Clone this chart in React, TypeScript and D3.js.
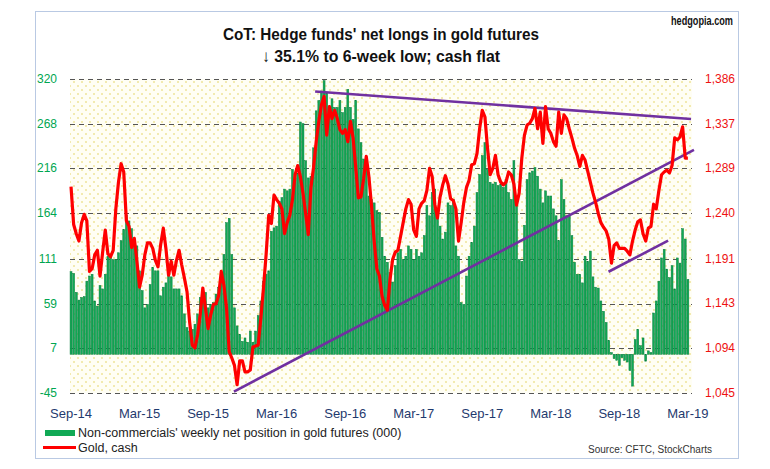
import React, { useEffect, useRef } from "react";
import * as d3 from "d3";

// weekly, Sep-2014 .. Mar-2019
const netLongs = [
  96, 94, 72, 63, 66, 67, 85, 91, 93, 62,
  56, 80, 76, 93, 114, 113, 110, 110, 118, 132,
  145, 162, 155, 146, 128, 126, 97, 74, 54, 58,
  81, 101, 97, 97, 68, 78, 83, 101, 90, 76,
  76, 76, 68, 47, 31, 27, 29, 35, 47, 66,
  62, 72, 54, 58, 60, 70, 78, 93, 116, 153,
  158, 116, 54, 33, 23, 15, 19, 14, 27, 14,
  27, 45, 62, 85, 93, 97, 143, 147, 149, 178,
  182, 192, 190, 192, 215, 205, 210, 270, 268, 225,
  205, 207, 240, 283, 295, 306, 318, 304, 285, 297,
  287, 287, 295, 281, 287, 308, 287, 273, 295, 262,
  246, 227, 215, 184, 180, 176, 167, 165, 136, 114,
  107, 95, 84, 103, 118, 122, 110, 114, 126, 122,
  110, 122, 114, 118, 138, 173, 161, 188, 192, 165,
  149, 134, 142, 176, 173, 180, 126, 114, 60, 58,
  91, 114, 130, 149, 188, 209, 231, 246, 215, 200,
  198, 200, 196, 198, 194, 203, 188, 180, 225, 173,
  110, 108, 150, 203, 211, 213, 217, 207, 192, 176,
  190, 184, 184, 169, 161, 132, 203, 180, 161, 161,
  138, 107, 93, 93, 83, 114, 108, 120, 90, 78,
  77, 62, 50, 37, 16, 2, -5, -7, -13, -4,
  -7, -9, -19, -37, 17, 29, 10, 19, -8, 4,
  2, 48, 62, 85, 112, 122, 99, 89, 103, 76,
  112, 106, 146, 134, 87,
];

const goldCash = [
  1269, 1228, 1218, 1210, 1230, 1239, 1232, 1177, 1180, 1195,
  1200, 1172, 1198, 1222, 1196, 1193, 1200, 1245, 1274, 1294,
  1285, 1232, 1226, 1203, 1213, 1188, 1160, 1173, 1195, 1208,
  1208, 1202, 1189, 1182, 1206, 1224, 1202, 1173, 1188, 1173,
  1189, 1200, 1184, 1170, 1155, 1122, 1097, 1094, 1108, 1130,
  1159, 1137, 1115, 1130, 1141, 1142, 1151, 1177, 1162, 1137,
  1090, 1083, 1075, 1054, 1080, 1080, 1068, 1068, 1070, 1095,
  1096, 1097, 1126, 1159, 1195, 1238, 1229, 1260, 1255, 1251,
  1245, 1218, 1230, 1238, 1255, 1282, 1292, 1280, 1262, 1240,
  1217, 1268, 1290, 1318, 1340, 1358, 1367, 1325, 1356, 1343,
  1352, 1343, 1331, 1327, 1331, 1318, 1340, 1322, 1290, 1257,
  1258, 1278, 1302, 1280, 1248, 1210, 1180, 1172, 1150, 1140,
  1135, 1168, 1190, 1198, 1200, 1215, 1230, 1245, 1255, 1250,
  1222, 1215, 1245, 1251, 1254, 1265, 1289, 1280, 1250, 1235,
  1258, 1271, 1281, 1272, 1256, 1254, 1245, 1210, 1230, 1252,
  1268, 1276, 1293, 1294, 1305, 1332, 1352, 1345, 1311, 1282,
  1289, 1303, 1282, 1274, 1271, 1274, 1285, 1282, 1272, 1249,
  1262, 1300, 1325, 1336, 1338, 1343, 1354, 1332, 1350, 1316,
  1356, 1332, 1327, 1318, 1313, 1350, 1327, 1347, 1343, 1332,
  1322, 1311, 1303, 1291, 1303, 1298, 1286, 1274, 1262, 1252,
  1240, 1230, 1225, 1221, 1212, 1186, 1205, 1208, 1202, 1202,
  1202, 1199, 1195, 1210, 1222, 1231, 1233, 1218, 1210, 1224,
  1226, 1250, 1245, 1265, 1282, 1285, 1287, 1284, 1292, 1322,
  1320, 1323, 1334, 1300, 1300,
];

const xTickLabels = ["Sep-14", "Mar-15", "Sep-15", "Mar-16", "Sep-16", "Mar-17", "Sep-17", "Mar-18", "Sep-18", "Mar-19"];
const leftTicks = [320, 268, 216, 164, 111, 59, 7, -45];
const rightTicks = [1386, 1337, 1289, 1240, 1191, 1143, 1094, 1045];

// trend lines drawn on the chart: [week index, gold price]
const trendLines: [number, number][][] = [
  [[92.6, 1372.4], [235.2, 1342.6]],
  [[61.8, 1046.6], [236.3, 1309]],
  [[203.9, 1176.7], [226.5, 1210.4]],
];

const FONT = "'Liberation Sans', Arial, sans-serif";

const drawChart = (svgEl: SVGSVGElement) => {
  const svg = d3.select(svgEl);
  svg.selectAll("*").remove();

  const left = 70;
  const right = 692;
  const top = 79;
  const bottom = 393;

  const x = d3
    .scaleBand<number>()
    .domain(d3.range(netLongs.length))
    .range([69.7, 689.2])
    .paddingInner(0.28)
    .paddingOuter(0.14);
  const xc = (i: number) => (x(i) || 0) + x.bandwidth() / 2;
  const xLin = d3
    .scaleLinear()
    .domain([0, netLongs.length - 1])
    .range([xc(0), xc(netLongs.length - 1)]);

  const yL = d3.scaleLinear().domain([-45, 320]).range([bottom, top]);
  const yR = d3.scaleLinear().domain([1045, 1386]).range([bottom, top]);

  const defs = svg.append("defs");
  const pat = defs
    .append("pattern")
    .attr("id", "dots")
    .attr("width", 8)
    .attr("height", 8)
    .attr("patternUnits", "userSpaceOnUse");
  pat.append("rect").attr("width", 8).attr("height", 8).attr("fill", "#fffef4");
  pat.append("circle").attr("cx", 2).attr("cy", 2).attr("r", 1).attr("fill", "#eee49a");
  pat.append("circle").attr("cx", 6).attr("cy", 6).attr("r", 1).attr("fill", "#eee49a");

  svg
    .append("rect")
    .attr("x", 35.5)
    .attr("y", 11.5)
    .attr("width", 703)
    .attr("height", 447)
    .attr("fill", "#ffffff")
    .attr("stroke", "#b9c9e3");

  svg
    .append("rect")
    .attr("x", left)
    .attr("y", top)
    .attr("width", right - left)
    .attr("height", bottom - top)
    .attr("fill", "url(#dots)");

  // grid
  svg
    .append("g")
    .selectAll("line")
    .data(leftTicks)
    .enter()
    .append("line")
    .attr("x1", left)
    .attr("x2", right)
    .attr("y1", (d) => Math.round(yL(d)) + 0.5)
    .attr("y2", (d) => Math.round(yL(d)) + 0.5)
    .attr("stroke", "#555")
    .attr("stroke-width", 1)
    .attr("stroke-dasharray", "5,4");

  // bars
  const y0 = yL(0);
  svg
    .append("g")
    .selectAll("rect")
    .data(netLongs)
    .enter()
    .append("rect")
    .attr("x", (_, i) => x(i) || 0)
    .attr("width", x.bandwidth())
    .attr("y", (d) => Math.min(yL(d), y0))
    .attr("height", (d) => Math.abs(yL(d) - y0))
    .attr("fill", "#10a955")
    .attr("stroke", "#0a7d3e")
    .attr("stroke-width", 0.5);

  // trend lines
  svg
    .append("g")
    .selectAll("line")
    .data(trendLines)
    .enter()
    .append("line")
    .attr("x1", (d) => xLin(d[0][0]))
    .attr("y1", (d) => yR(d[0][1]))
    .attr("x2", (d) => xLin(d[1][0]))
    .attr("y2", (d) => yR(d[1][1]))
    .attr("stroke", "#7030a0")
    .attr("stroke-width", 2.6);

  // gold line
  const line = d3
    .line<number>()
    .x((_, i) => xc(i))
    .y((d) => yR(d));
  svg
    .append("path")
    .datum(goldCash)
    .attr("d", line)
    .attr("fill", "none")
    .attr("stroke", "#ff0000")
    .attr("stroke-width", 3.2)
    .attr("stroke-linejoin", "round");

  // axis labels
  svg
    .append("g")
    .selectAll("text")
    .data(leftTicks)
    .enter()
    .append("text")
    .attr("x", 57)
    .attr("y", (d) => yL(d) + 4)
    .attr("text-anchor", "end")
    .attr("font-size", 12)
    .attr("fill", "#00a651")
    .text((d) => d);

  svg
    .append("g")
    .selectAll("text")
    .data(rightTicks)
    .enter()
    .append("text")
    .attr("x", 705)
    .attr("y", (d) => yR(d) + 4)
    .attr("font-size", 12)
    .attr("fill", "#ee1111")
    .text((d) => d3.format(",")(d));

  svg
    .append("g")
    .selectAll("text")
    .data(xTickLabels)
    .enter()
    .append("text")
    .attr("x", (_, i) => xc(i * 26))
    .attr("y", 418)
    .attr("text-anchor", "middle")
    .attr("font-size", 13)
    .attr("fill", "#1f3a6e")
    .text((d) => d);

  // title and notes
  const t = svg.append("g").attr("fill", "#111").attr("font-weight", "bold");
  t.append("text")
    .attr("x", 733)
    .attr("y", 25)
    .attr("text-anchor", "end")
    .attr("font-size", 13)
    .attr("textLength", 62)
    .attr("lengthAdjust", "spacingAndGlyphs")
    .text("hedgopia.com");
  t.append("text")
    .attr("x", 381)
    .attr("y", 40)
    .attr("text-anchor", "middle")
    .attr("font-size", 17)
    .attr("textLength", 316)
    .attr("lengthAdjust", "spacingAndGlyphs")
    .text("CoT: Hedge funds' net longs in gold futures");
  t.append("text")
    .attr("x", 381)
    .attr("y", 62)
    .attr("text-anchor", "middle")
    .attr("font-size", 17)
    .attr("textLength", 238)
    .attr("lengthAdjust", "spacingAndGlyphs")
    .text("↓ 35.1% to 6-week low; cash flat");

  // legend
  svg.append("rect").attr("x", 45).attr("y", 430).attr("width", 30).attr("height", 6).attr("fill", "#10a955");
  svg
    .append("text")
    .attr("x", 78)
    .attr("y", 437)
    .attr("font-size", 12.5)
    .attr("fill", "#222")
    .text("Non-commercials' weekly net position in gold futures (000)");
  svg
    .append("line")
    .attr("x1", 43)
    .attr("x2", 76)
    .attr("y1", 447.5)
    .attr("y2", 447.5)
    .attr("stroke", "#ff0000")
    .attr("stroke-width", 3);
  svg.append("text").attr("x", 78).attr("y", 452).attr("font-size", 12.5).attr("fill", "#222").text("Gold, cash");
  svg
    .append("text")
    .attr("x", 712)
    .attr("y", 453)
    .attr("text-anchor", "end")
    .attr("font-size", 10)
    .attr("fill", "#333")
    .text("Source: CFTC, StockCharts");

  svg.selectAll("text").attr("font-family", FONT);
};

const App = () => {
  const ref = useRef<SVGSVGElement>(null);

  useEffect(() => {
    document.body.style.margin = "0";
    if (ref.current) drawChart(ref.current);
  }, []);

  return <svg ref={ref} width={770} height={469} style={{ display: "block", background: "#fff" }} />;
};

export default App;
